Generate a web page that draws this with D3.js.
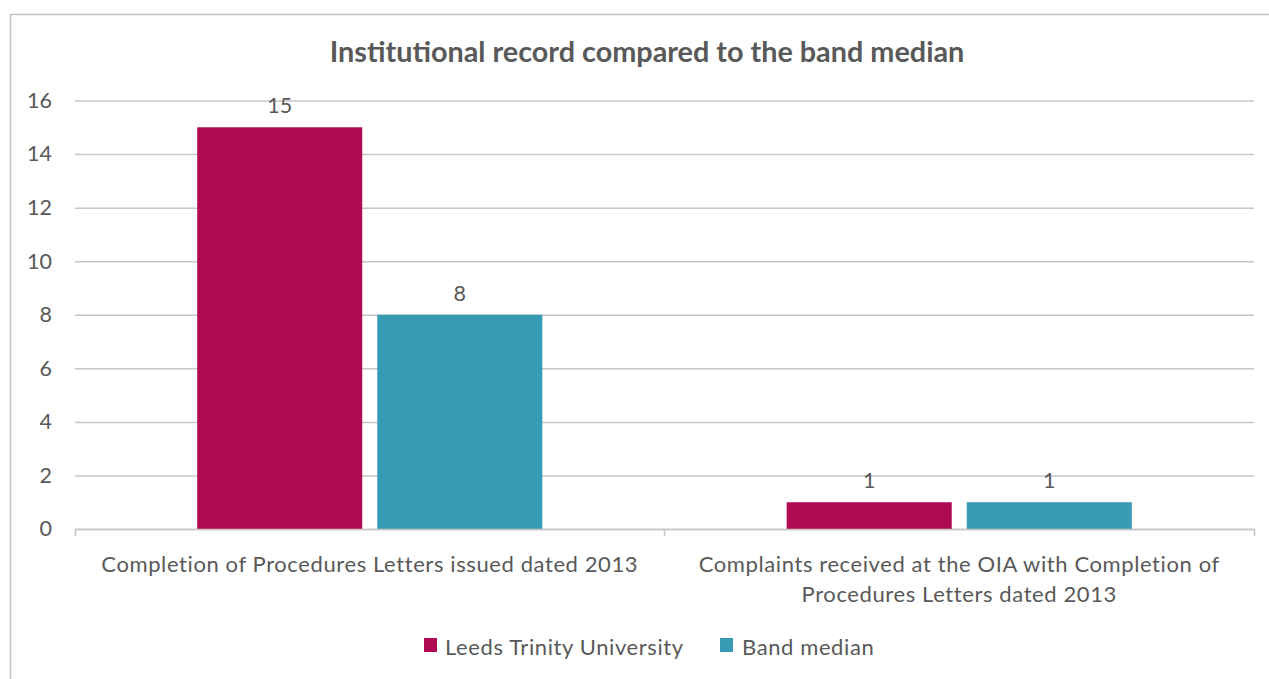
<!DOCTYPE html>
<html>
<head>
<meta charset="utf-8">
<script src="https://cdn.jsdelivr.net/npm/d3@7"></script>
<style>
  html, body { margin: 0; padding: 0; background: #fff; }
  svg { display: block; }
</style>
</head>
<body>
<svg id="chart" width="1269" height="679"></svg>
<script>
const chartTitle = "Institutional record compared to the band median";
const categories = [
  "Completion of Procedures Letters issued dated 2013",
  "Complaints received at the OIA with Completion of Procedures Letters dated 2013"
];
const categoryLabelLines = [
  ["Completion of Procedures Letters issued dated 2013"],
  ["Complaints received at the OIA with Completion of", "Procedures Letters dated 2013"]
];
const seriesNames = ["Leeds Trinity University", "Band median"];
const leedsValues = [15, 1];
const bandMedianValues = [8, 1];
const yTickValues = [0, 2, 4, 6, 8, 10, 12, 14, 16];
const seriesColors = ["#B10A55", "#379BB5"];

const svg = d3.select("#chart");
const FONT = "Lato, 'Open Sans', sans-serif";
const textColor = "#595959";
const gridColor = "#C6C6C6";

// chart area border
svg.append("rect")
  .attr("x", 10.5).attr("y", 14.5)
  .attr("width", 1300).attr("height", 700)
  .attr("fill", "#fff")
  .attr("stroke", "#C4C4C4").attr("stroke-width", 1.5);

const margin = { left: 75, right: 1254, top: 100.5, bottom: 529 };

const x0 = d3.scaleBand().domain(categories).range([margin.left, margin.right]);
const bw = x0.bandwidth();
const x1 = d3.scaleBand().domain(seriesNames)
  .range([bw * (1 - 0.5855) / 2, bw * (1 + 0.5855) / 2])
  .paddingInner(0.0835);
const y = d3.scaleLinear().domain([0, 16]).range([margin.bottom, margin.top]);

// title
svg.append("text")
  .attr("x", 647).attr("y", 62)
  .attr("text-anchor", "middle")
  .attr("font-family", FONT).attr("font-weight", "bold")
  .attr("font-size", 28.8).attr("fill", textColor)
  .text(chartTitle);

// y axis + gridlines
const yAxis = svg.append("g")
  .attr("transform", `translate(${margin.left},0)`)
  .call(d3.axisLeft(y).tickValues(yTickValues).tickSize(-(margin.right - margin.left)).tickPadding(23));
yAxis.select(".domain").remove();
yAxis.selectAll(".tick line").attr("stroke", gridColor).attr("stroke-width", 1.5);
yAxis.selectAll(".tick text")
  .attr("font-family", FONT).attr("font-size", 21.5).attr("fill", textColor);

// bars
const data = categories.map((c, i) => ({ cat: c, vals: [leedsValues[i], bandMedianValues[i]] }));
const groups = svg.append("g").selectAll("g").data(data).join("g")
  .attr("transform", d => `translate(${x0(d.cat)},0)`);
groups.selectAll("rect")
  .data(d => d.vals.map((v, j) => ({ name: seriesNames[j], v, j })))
  .join("rect")
  .attr("x", d => x1(d.name))
  .attr("width", x1.bandwidth())
  .attr("y", d => y(d.v))
  .attr("height", d => y(0) - y(d.v))
  .attr("fill", d => seriesColors[d.j]);
groups.selectAll("text.val")
  .data(d => d.vals.map((v, j) => ({ name: seriesNames[j], v, j })))
  .join("text").attr("class", "val")
  .attr("x", d => x1(d.name) + x1.bandwidth() / 2)
  .attr("y", d => y(d.v) - 14)
  .attr("text-anchor", "middle")
  .attr("font-family", FONT).attr("font-size", 21.5).attr("fill", textColor)
  .text(d => d.v);

// x axis
const xAxis = svg.append("g")
  .attr("transform", `translate(0,${margin.bottom})`)
  .call(d3.axisBottom(x0).tickSize(0).tickSizeOuter(7).tickPadding(0));
xAxis.select(".domain").attr("stroke", gridColor).attr("stroke-width", 1.5);
xAxis.selectAll(".tick text").each(function (d, i) {
  const t = d3.select(this);
  t.text(null).attr("y", 0).attr("dy", null)
    .attr("font-family", FONT).attr("font-size", 22).attr("letter-spacing", 0.6)
    .attr("fill", textColor);
  categoryLabelLines[i].forEach((line, k) => {
    t.append("tspan").attr("x", 0).attr("y", 43 + k * 30).text(line);
  });
});
// middle category boundary tick
xAxis.append("line")
  .attr("x1", x0(categories[1])).attr("x2", x0(categories[1]))
  .attr("y1", 0).attr("y2", 7)
  .attr("stroke", gridColor).attr("stroke-width", 1.5);

// legend
const legendItems = [{ x: 424, tx: 445 }, { x: 720, tx: 742 }];
const legend = svg.append("g");
seriesNames.forEach((name, i) => {
  legend.append("rect")
    .attr("x", legendItems[i].x).attr("y", 638)
    .attr("width", 13).attr("height", 14)
    .attr("fill", seriesColors[i]);
  legend.append("text")
    .attr("x", legendItems[i].tx).attr("y", 655)
    .attr("font-family", FONT).attr("font-size", 22).attr("letter-spacing", 0.6)
    .attr("fill", textColor)
    .text(name);
});
</script>
</body>
</html>
